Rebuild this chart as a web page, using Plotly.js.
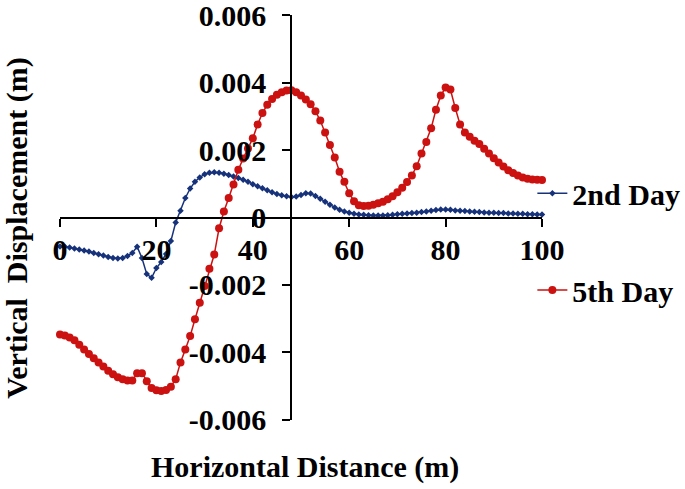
<!DOCTYPE html>
<html>
<head>
<meta charset="utf-8">
<script src="https://cdn.plot.ly/plotly-3.0.1.min.js"></script>
<style>
  html, body { margin: 0; padding: 0; background: #fff; }
  #myPlot { width: 685px; height: 489px; }
</style>
</head>
<body>
<div id="myPlot"></div>
<script>
// horizontal distance (m), one reading every metre
var distance = [];
for (let i = 0; i <= 100; i++) { distance.push(i); }

// vertical displacement, in units of 0.001 m
var day2 = [
  -0.86, -0.87, -0.89, -0.92, -0.95, -0.98, -1.01, -1.05, -1.09, -1.13,
  -1.17, -1.20, -1.22, -1.20, -1.14, -1.05, -0.87, -1.20, -1.68, -1.79,
  -1.50, -1.32, -1.08, -0.70, -0.15, 0.20, 0.58, 0.86, 1.06, 1.19,
  1.28, 1.33, 1.34, 1.33, 1.30, 1.26, 1.22, 1.17, 1.12, 1.06,
  0.99, 0.93, 0.87, 0.81, 0.75, 0.70, 0.66, 0.63, 0.61, 0.62,
  0.67, 0.72, 0.71, 0.64, 0.56, 0.47, 0.38, 0.30, 0.23, 0.18,
  0.14, 0.11, 0.09, 0.08, 0.07, 0.06, 0.06, 0.06, 0.07, 0.08,
  0.10, 0.11, 0.12, 0.13, 0.14, 0.16, 0.18, 0.20, 0.22, 0.24,
  0.24, 0.23, 0.21, 0.20, 0.19, 0.18, 0.17, 0.16, 0.15, 0.14,
  0.14, 0.13, 0.13, 0.12, 0.12, 0.11, 0.11, 0.10, 0.10, 0.09,
  0.09
];
var day5 = [
  -3.47, -3.50, -3.56, -3.64, -3.78, -3.92, -4.05, -4.18, -4.30, -4.42,
  -4.55, -4.65, -4.74, -4.80, -4.84, -4.84, -4.62, -4.62, -4.86, -5.06,
  -5.13, -5.15, -5.12, -5.02, -4.80, -4.30, -3.92, -3.52, -3.02, -2.53,
  -2.03, -1.52, -1.10, -0.32, 0.18, 0.58, 0.98, 1.42, 1.75, 2.05,
  2.35, 2.76, 3.10, 3.35, 3.52, 3.64, 3.72, 3.77, 3.78, 3.72,
  3.62, 3.50, 3.36, 3.15, 2.88, 2.52, 2.15, 1.78, 1.36, 1.06,
  0.72, 0.48, 0.36, 0.34, 0.35, 0.38, 0.42, 0.47, 0.54, 0.63,
  0.75, 0.88, 1.05, 1.25, 1.52, 1.90, 2.24, 2.65, 3.20, 3.62,
  3.86, 3.80, 3.25, 2.76, 2.52, 2.40, 2.28, 2.18, 2.04, 1.90,
  1.76, 1.63, 1.51, 1.40, 1.32, 1.25, 1.19, 1.15, 1.13, 1.12,
  1.11
];

var xTicks = [0, 20, 40, 60, 80, 100];
var xTickText = ["0", "20", "40", "60", "80", "100"];
var yTicks = [-0.006, -0.004, -0.002, 0, 0.002, 0.004, 0.006];
var yTickText = ["-0.006", "-0.004", "-0.002", "0", "0.002", "0.004", "0.006"];

var toMetres = function (v) { return v / 1000; };

var boldFont = {family: "Liberation Serif, Times New Roman, serif", size: 30, color: "black", weight: "bold"};

var data = [
  {
    x: distance,
    y: day2.map(toMetres),
    mode: "lines+markers",
    name: "2nd Day",
    line: {color: "#16327a", width: 1.5},
    marker: {color: "#16327a", symbol: "diamond", size: 5},
    cliponaxis: false,
    legend: "legend"
  },
  {
    x: distance,
    y: day5.map(toMetres),
    mode: "lines+markers",
    name: "5th Day",
    line: {color: "#cc1111", width: 1.5},
    marker: {color: "#cc1111", symbol: "circle", size: 8},
    cliponaxis: false,
    legend: "legend2"
  }
];

var layout = {
  width: 685,
  height: 489,
  margin: {l: 60, r: 143, t: 15, b: 69, autoexpand: false},
  paper_bgcolor: "white",
  plot_bgcolor: "white",
  font: boldFont,
  xaxis: {
    range: [0, 100],
    domain: [0, 1],
    anchor: "free",
    position: 0.5,
    showgrid: false,
    zeroline: false,
    showline: true,
    linecolor: "black",
    linewidth: 2,
    ticks: "outside",
    ticklen: 8,
    tickwidth: 2,
    tickcolor: "black",
    tickvals: xTicks,
    ticktext: xTickText,
    ticklabelstandoff: -3,
    ticklabeloverflow: "allow",
    tickfont: boldFont
  },
  yaxis: {
    range: [-0.00601, 0.00601],
    domain: [0, 1],
    anchor: "free",
    position: 0.48,
    showgrid: false,
    zeroline: false,
    showline: true,
    linecolor: "black",
    linewidth: 2,
    ticks: "outside",
    ticklen: 8,
    tickwidth: 2,
    tickcolor: "black",
    tickvals: yTicks,
    ticktext: yTickText,
    ticklabelstandoff: 10,
    ticklabeloverflow: "allow",
    tickfont: boldFont
  },
  showlegend: true,
  legend: {x: 0.98, y: 0.56, xanchor: "left", yanchor: "middle", font: boldFont, bgcolor: "rgba(0,0,0,0)"},
  legend2: {x: 0.98, y: 0.321, xanchor: "left", yanchor: "middle", font: boldFont, bgcolor: "rgba(0,0,0,0)"},
  annotations: [
    {
      text: "Horizontal Distance (m)",
      xref: "paper", yref: "paper",
      x: 0.508, y: -0.116,
      xanchor: "center", yanchor: "middle",
      showarrow: false,
      font: boldFont
    },
    {
      text: "Vertical  Displacement (m)",
      xref: "paper", yref: "paper",
      x: -0.09, y: 0.474,
      xanchor: "center", yanchor: "middle",
      textangle: -90,
      showarrow: false,
      font: boldFont
    }
  ]
};

Plotly.newPlot("myPlot", data, layout, {displayModeBar: false});
</script>
</body>
</html>
